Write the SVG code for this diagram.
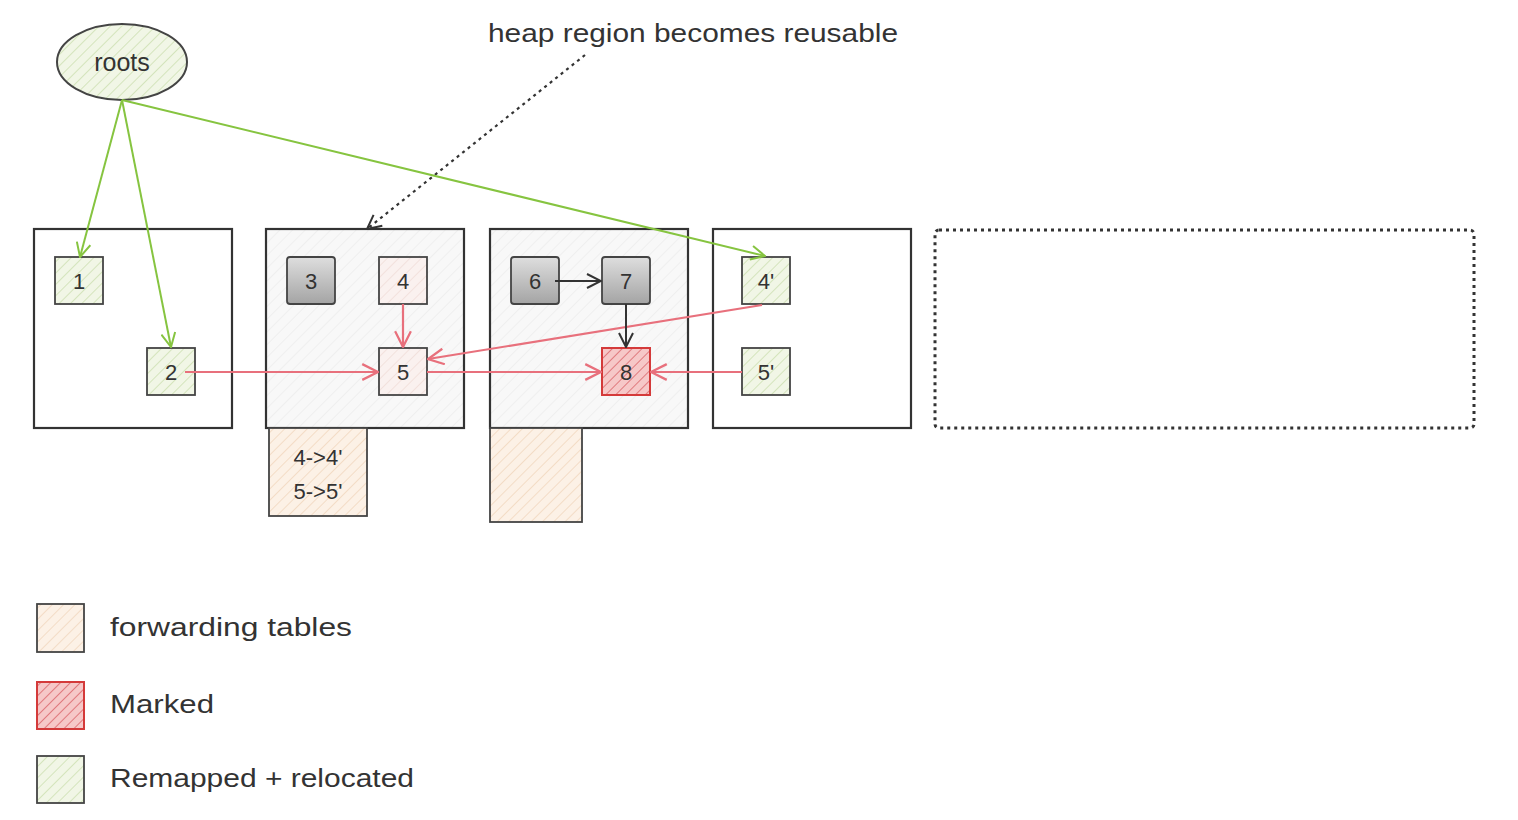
<svg xmlns="http://www.w3.org/2000/svg" width="1518" height="820" viewBox="0 0 1518 820">
<defs>
<style>
text{font-family:"Liberation Sans","DejaVu Sans",sans-serif;fill:#333}
.lbl{font-size:22px;text-anchor:middle;dominant-baseline:central}
.region{stroke:#333;stroke-width:2.2}
.node{stroke:#444;stroke-width:1.8}
.g{fill:none;stroke:#86c440;stroke-width:2}
.r{fill:none;stroke:#e8707c;stroke-width:2.2}
.k{fill:none;stroke:#333;stroke-width:2}
</style>
<pattern id="hGreen" width="8" height="8" patternUnits="userSpaceOnUse" patternTransform="rotate(45)">
<rect width="8" height="8" fill="#f1f6e6"/><line x1="0" y1="0" x2="0" y2="8" stroke="#d4e4bc" stroke-width="2"/>
</pattern>
<pattern id="hBeige" width="8" height="8" patternUnits="userSpaceOnUse" patternTransform="rotate(45)">
<rect width="8" height="8" fill="#fcf1e6"/><line x1="0" y1="0" x2="0" y2="8" stroke="#f3dcc6" stroke-width="2"/>
</pattern>
<pattern id="hPink" width="8" height="8" patternUnits="userSpaceOnUse" patternTransform="rotate(45)">
<rect width="8" height="8" fill="#faf1ef"/><line x1="0" y1="0" x2="0" y2="8" stroke="#f0dcd8" stroke-width="1.5"/>
</pattern>
<pattern id="hRed" width="7" height="7" patternUnits="userSpaceOnUse" patternTransform="rotate(45)">
<rect width="7" height="7" fill="#f6c8c8"/><line x1="0" y1="0" x2="0" y2="7" stroke="#e07a7e" stroke-width="2"/>
</pattern>
<pattern id="hGray" width="9" height="9" patternUnits="userSpaceOnUse" patternTransform="rotate(45)">
<rect width="9" height="9" fill="#f8f8f8"/><line x1="0" y1="0" x2="0" y2="9" stroke="#ececec" stroke-width="1.5"/>
</pattern>
<linearGradient id="gGray" x1="0" y1="0" x2="0" y2="1">
<stop offset="0" stop-color="#dedede"/><stop offset="1" stop-color="#a4a4a4"/>
</linearGradient>
<marker id="aG" viewBox="0 0 16 16" refX="15" refY="8" markerWidth="16" markerHeight="16" markerUnits="userSpaceOnUse" orient="auto">
<path d="M1,1 L15,8 L1,15" fill="none" stroke="#86c440" stroke-width="2"/>
</marker>
<marker id="aR" viewBox="0 0 16 16" refX="15" refY="8" markerWidth="18" markerHeight="18" markerUnits="userSpaceOnUse" orient="auto">
<path d="M1,1 L15,8 L1,15" fill="none" stroke="#e8707c" stroke-width="2"/>
</marker>
<marker id="aK" viewBox="0 0 16 16" refX="15" refY="8" markerWidth="16" markerHeight="16" markerUnits="userSpaceOnUse" orient="auto">
<path d="M1,1 L15,8 L1,15" fill="none" stroke="#333" stroke-width="2"/>
</marker>
</defs>
<rect width="1518" height="820" fill="#fff"/>

<g id="regions">
<rect id="region1" class="region" x="34" y="229" width="198" height="199" fill="#fff"/>
<rect id="region2" class="region" x="266" y="229" width="198" height="199" fill="url(#hGray)"/>
<rect id="region3" class="region" x="490" y="229" width="198" height="199" fill="url(#hGray)"/>
<rect id="region4" class="region" x="713" y="229" width="198" height="199" fill="#fff"/>
<rect id="region5" x="935" y="230" width="539" height="198" rx="4" fill="#fff" stroke="#333" stroke-width="3" stroke-dasharray="3 4"/>
</g>

<g id="roots">
<ellipse cx="122" cy="62" rx="65" ry="38" fill="url(#hGreen)" stroke="#444" stroke-width="2"/>
<text class="lbl" x="122" y="62" style="font-size:25px">roots</text>
</g>

<g id="n1"><rect class="node" x="55" y="257" width="48" height="47" fill="url(#hGreen)"/><text class="lbl" x="79" y="281">1</text></g>
<g id="n2"><rect class="node" x="147" y="348" width="48" height="47" fill="url(#hGreen)"/><text class="lbl" x="171" y="372">2</text></g>
<g id="n3"><rect class="node" x="287" y="257" width="48" height="47" rx="3" fill="url(#gGray)"/><text class="lbl" x="311" y="281">3</text></g>
<g id="n4"><rect class="node" x="379" y="257" width="48" height="47" fill="url(#hPink)"/><text class="lbl" x="403" y="281">4</text></g>
<g id="n5"><rect class="node" x="379" y="348" width="48" height="47" fill="url(#hPink)"/><text class="lbl" x="403" y="372">5</text></g>
<g id="n6"><rect class="node" x="511" y="257" width="48" height="47" rx="3" fill="url(#gGray)"/><text class="lbl" x="535" y="281">6</text></g>
<g id="n7"><rect class="node" x="602" y="257" width="48" height="47" rx="3" fill="url(#gGray)"/><text class="lbl" x="626" y="281">7</text></g>
<g id="n8"><rect x="602" y="348" width="48" height="47" fill="url(#hRed)" stroke="#d43a3a" stroke-width="2"/><text class="lbl" x="626" y="372">8</text></g>
<g id="n4p"><rect class="node" x="742" y="257" width="48" height="47" fill="url(#hGreen)"/><text class="lbl" x="766" y="281">4'</text></g>
<g id="n5p"><rect class="node" x="742" y="348" width="48" height="47" fill="url(#hGreen)"/><text class="lbl" x="766" y="372">5'</text></g>

<g id="fwd1">
<rect class="node" x="269" y="428" width="98" height="88" fill="url(#hBeige)"/>
<text class="lbl" x="318" y="457">4-&gt;4'</text>
<text class="lbl" x="318" y="491">5-&gt;5'</text>
</g>
<g id="fwd2"><rect class="node" x="490" y="428" width="92" height="94" fill="url(#hBeige)"/></g>

<g id="note">
<text x="488" y="42" style="font-size:25px" textLength="410" lengthAdjust="spacingAndGlyphs">heap region becomes reusable</text>
</g>

<g id="connectors">
<line x1="585" y1="55" x2="367" y2="229" stroke="#333" stroke-width="2.2" stroke-dasharray="3 4" marker-end="url(#aK)"/>
<line class="g" x1="122" y1="100" x2="80" y2="257" marker-end="url(#aG)"/>
<line class="g" x1="122" y1="100" x2="171" y2="347" marker-end="url(#aG)"/>
<line class="g" x1="122" y1="100" x2="765" y2="256" marker-end="url(#aG)"/>
<line class="r" x1="185" y1="372" x2="378" y2="372" marker-end="url(#aR)"/>
<line class="r" x1="403" y1="304" x2="403" y2="347" marker-end="url(#aR)"/>
<line class="r" x1="762" y1="305" x2="428" y2="359" marker-end="url(#aR)"/>
<line class="r" x1="427" y1="372" x2="601" y2="372" marker-end="url(#aR)"/>
<line class="r" x1="742" y1="372" x2="651" y2="372" marker-end="url(#aR)"/>
<line class="k" x1="555" y1="281" x2="601" y2="281" marker-end="url(#aK)"/>
<line class="k" x1="626" y1="304" x2="626" y2="347" marker-end="url(#aK)"/>
</g>

<g id="legend">
<g id="legend-fwd"><rect class="node" x="37" y="604" width="47" height="48" fill="url(#hBeige)"/><text x="110" y="636" style="font-size:26px" textLength="242" lengthAdjust="spacingAndGlyphs">forwarding tables</text></g>
<g id="legend-marked"><rect x="37" y="682" width="47" height="47" fill="url(#hRed)" stroke="#d43a3a" stroke-width="2"/><text x="110" y="713" style="font-size:26px" textLength="104" lengthAdjust="spacingAndGlyphs">Marked</text></g>
<g id="legend-remap"><rect class="node" x="37" y="756" width="47" height="47" fill="url(#hGreen)"/><text x="110" y="787" style="font-size:26px" textLength="304" lengthAdjust="spacingAndGlyphs">Remapped + relocated</text></g>
</g>
</svg>
